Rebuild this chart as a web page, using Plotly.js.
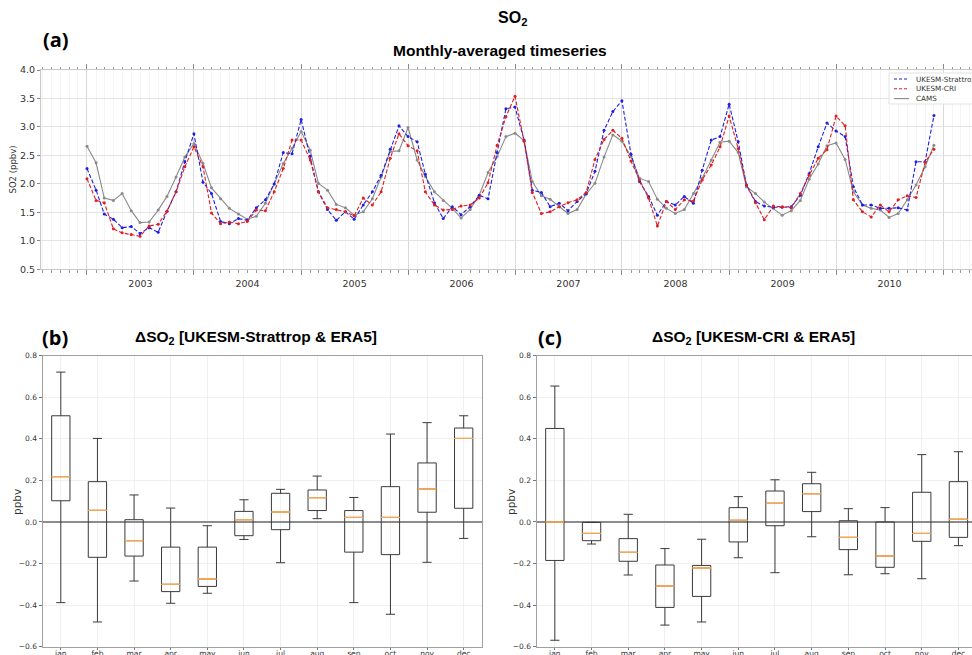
<!DOCTYPE html>
<html><head><meta charset="utf-8">
<script src="https://cdn.plot.ly/plotly-3.0.1.min.js"></script>
<style>html,body{margin:0;padding:0;background:#fff;} #chart{width:972px;height:655px;}</style>
</head><body><div id="chart"></div>
<script>
// ---------- data ----------
const years = [2003, 2004, 2005, 2006, 2007, 2008, 2009, 2010];

const strattrop = [
  2.27, 1.89, 1.47, 1.38, 1.23, 1.25, 1.13, 1.23, 1.15, 1.52, 1.86, 2.39,
  2.88, 2.03, 1.83, 1.34, 1.30, 1.39, 1.36, 1.58, 1.72, 2.00, 2.55, 2.53,
  3.13, 2.49, 1.86, 1.55, 1.36, 1.51, 1.38, 1.63, 1.86, 2.15, 2.61, 3.02,
  2.83, 2.74, 2.17, 1.67, 1.39, 1.60, 1.46, 1.60, 1.80, 1.74, 2.55, 3.32,
  3.35, 2.77, 1.89, 1.85, 1.60, 1.66, 1.53, 1.69, 1.83, 2.22, 2.94, 3.27,
  3.46, 2.52, 2.04, 1.78, 1.45, 1.69, 1.63, 1.78, 1.66, 2.24, 2.77, 2.83,
  3.40, 2.74, 1.98, 1.69, 1.61, 1.59, 1.59, 1.60, 1.80, 2.18, 2.65, 3.07,
  2.93, 2.83, 1.95, 1.63, 1.63, 1.57, 1.57, 1.58, 1.54, 2.39, 2.39, 3.20
];
const cri = [
  2.09, 1.71, 1.67, 1.21, 1.14, 1.11, 1.08, 1.26, 1.29, 1.52, 1.86, 2.30,
  2.65, 2.30, 1.49, 1.30, 1.33, 1.30, 1.34, 1.54, 1.53, 1.86, 2.27, 2.77,
  2.77, 2.42, 1.86, 1.58, 1.55, 1.51, 1.44, 1.75, 1.63, 1.86, 2.45, 2.88,
  2.67, 2.58, 1.86, 1.63, 1.54, 1.55, 1.61, 1.63, 1.75, 2.02, 2.68, 3.18,
  3.54, 2.75, 1.85, 1.48, 1.51, 1.60, 1.67, 1.72, 1.85, 2.43, 2.78, 2.94,
  2.80, 2.40, 2.07, 1.75, 1.26, 1.69, 1.55, 1.72, 1.70, 2.07, 2.33, 2.65,
  3.19, 2.62, 1.98, 1.67, 1.37, 1.61, 1.60, 1.58, 1.83, 2.15, 2.45, 2.60,
  3.19, 3.02, 1.72, 1.51, 1.42, 1.63, 1.51, 1.72, 1.79, 1.76, 2.38, 2.61
];
const cams = [
  2.66, 2.37, 1.75, 1.71, 1.83, 1.53, 1.32, 1.33, 1.54, 1.78, 2.12, 2.47,
  2.71, 2.36, 1.93, 1.74, 1.57, 1.47, 1.38, 1.43, 1.66, 2.00, 2.36, 2.62,
  2.92, 2.59, 2.01, 1.89, 1.64, 1.58, 1.45, 1.51, 1.74, 2.12, 2.57, 2.58,
  2.99, 2.42, 2.13, 1.86, 1.71, 1.57, 1.40, 1.55, 1.80, 2.20, 2.48, 2.83,
  2.89, 2.76, 2.04, 1.79, 1.73, 1.60, 1.48, 1.55, 1.82, 2.01, 2.47, 2.86,
  2.75, 2.48, 2.10, 2.04, 1.73, 1.57, 1.48, 1.55, 1.83, 2.10, 2.42, 2.73,
  2.75, 2.55, 1.95, 1.83, 1.68, 1.57, 1.45, 1.53, 1.71, 2.08, 2.35, 2.67,
  2.72, 2.43, 1.86, 1.63, 1.57, 1.54, 1.41, 1.48, 1.72, 1.98, 2.30, 2.68
];

const monthIdx = [1, 2, 3, 4, 5, 6, 7, 8, 9, 10, 11, 12];
const monthLabels = ['jan', 'feb', 'mar', 'apr', 'may', 'jun', 'jul', 'aug', 'sep', 'oct', 'nov', 'dec'];

// (b) UKESM-Strattrop minus ERA5
const stratHi  = [0.721, 0.402, 0.130, 0.067, -0.018, 0.107, 0.157, 0.221, 0.118, 0.423, 0.478, 0.511];
const stratQ3  = [0.511, 0.194, 0.011, -0.121, -0.121, 0.051, 0.138, 0.154, 0.055, 0.170, 0.284, 0.452];
const stratMed = [0.218, 0.056, -0.090, -0.300, -0.274, 0.011, 0.048, 0.117, 0.022, 0.022, 0.159, 0.402];
const stratQ1  = [0.102, -0.170, -0.164, -0.335, -0.310, -0.066, -0.037, 0.055, -0.145, -0.157, 0.047, 0.066];
const stratLo  = [-0.388, -0.481, -0.284, -0.391, -0.343, -0.084, -0.196, 0.016, -0.388, -0.444, -0.194, -0.079];

// (c) UKESM-CRI minus ERA5
const criHi  = [0.654, -0.002, 0.037, -0.128, -0.083, 0.122, 0.203, 0.239, 0.064, 0.069, 0.324, 0.338];
const criQ3  = [0.450, -0.002, -0.080, -0.207, -0.209, 0.069, 0.149, 0.184, 0.006, 0.000, 0.143, 0.194];
const criMed = [0.000, -0.055, -0.146, -0.308, -0.221, 0.008, 0.090, 0.136, -0.074, -0.164, -0.055, 0.013];
const criQ1  = [-0.185, -0.090, -0.189, -0.411, -0.358, -0.096, -0.018, 0.050, -0.133, -0.218, -0.093, -0.074];
const criLo  = [-0.569, -0.106, -0.255, -0.496, -0.481, -0.172, -0.244, -0.071, -0.254, -0.249, -0.273, -0.114];

// ---------- build ----------
const W = 972, H = 655;
const px = v => v / W;
const py = v => 1 - v / H;

const dates = [];
years.forEach(y => { for (let m = 1; m <= 12; m++) dates.push(y + '-' + String(m).padStart(2, '0') + '-01'); });

const dashStyle = '4px,2px';
const lineTrace = (y, name, color, dash) => ({
  type: 'scatter', mode: 'lines+markers', x: dates, y: y, name: name,
  xaxis: 'x', yaxis: 'y',
  line: {color: color, width: 1.1, dash: dash},
  marker: {color: color, size: 3},
  showlegend: false, hoverinfo: 'skip'
});

const boxTrace = (lo, q1, med, q3, hi, xa, ya) => ({
  type: 'box', x: monthIdx, q1: q1, median: med, q3: q3, lowerfence: lo, upperfence: hi,
  xaxis: xa, yaxis: ya, width: 0.5, whiskerwidth: 0.5, boxpoints: false,
  line: {color: '#3a3a3a', width: 1}, fillcolor: 'rgba(255,255,255,0)',
  showlegend: false, hoverinfo: 'skip'
});
const medTrace = (med, xa, ya) => ({
  type: 'box', x: monthIdx, q1: med, median: med, q3: med, lowerfence: med, upperfence: med,
  xaxis: xa, yaxis: ya, width: 0.5, whiskerwidth: 0, boxpoints: false,
  line: {color: '#f7a856', width: 1}, fillcolor: 'rgba(255,255,255,0)',
  showlegend: false, hoverinfo: 'skip'
});

const data = [
  lineTrace(cams, 'CAMS', '#8a8a8a', 'solid'),
  lineTrace(strattrop, 'UKESM-Strattrop', '#1f1fe0', dashStyle),
  lineTrace(cri, 'UKESM-CRI', '#e01f1f', dashStyle),
  boxTrace(stratLo, stratQ1, stratMed, stratQ3, stratHi, 'x2', 'y2'),
  medTrace(stratMed, 'x2', 'y2'),
  boxTrace(criLo, criQ1, criMed, criQ3, criHi, 'x3', 'y3'),
  medTrace(criMed, 'x3', 'y3')
];

const tickFont = {family: 'DejaVu Sans', size: 9.5, color: '#333'};
const smallTick = {family: 'DejaVu Sans', size: 7.5, color: '#333'};

const boxX = (dom, rng) => ({
  domain: dom, range: rng, tickvals: monthIdx, ticktext: monthLabels,
  showgrid: true, gridcolor: '#ececec', gridwidth: 0.8,
  showline: true, linecolor: '#a0a0a0', linewidth: 1, mirror: true,
  ticks: 'outside', ticklen: 2, tickcolor: '#777', tickfont: smallTick,
  ticklabelstandoff: -3,
  zeroline: false, fixedrange: true
});
const boxY = (anchor) => ({
  domain: [1 - 646.7 / H, 1 - 355.7 / H], anchor: anchor, range: [-0.6, 0.8], dtick: 0.2, tick0: 0,
  tickformat: '.1f', showgrid: true, gridcolor: '#ececec', gridwidth: 0.8,
  showline: true, linecolor: '#a0a0a0', linewidth: 1, mirror: true,
  ticks: 'outside', ticklen: 3, tickcolor: '#777', tickfont: smallTick,
  zeroline: true, zerolinecolor: '#8c8c8c', zerolinewidth: 1.3
});

const legendY = [79, 88.8, 98.6];
const legendItems = [
  {name: 'UKESM-Strattrop', color: '#1f1fe0', dash: 'dash'},
  {name: 'UKESM-CRI', color: '#e01f1f', dash: 'dash'},
  {name: 'CAMS', color: '#8a8a8a', dash: 'solid'}
];

const shapes = [
  {type: 'rect', xref: 'paper', yref: 'paper', x0: px(889), x1: px(975), y0: py(104), y1: py(73),
   line: {color: '#e2e2e2', width: 1}, fillcolor: 'rgba(255,255,255,0.9)', layer: 'above'}
];
const annotations = [];
legendItems.forEach((it, k) => {
  shapes.push({type: 'line', xref: 'paper', yref: 'paper', x0: px(894), x1: px(909),
    y0: py(legendY[k]), y1: py(legendY[k]), line: {color: it.color, width: 1.1, dash: it.dash === 'dash' ? '3px,2px' : 'solid'}, layer: 'above'});
  annotations.push({xref: 'paper', yref: 'paper', x: px(914), y: py(legendY[k]), xanchor: 'left', yanchor: 'middle',
    text: it.name, showarrow: false, font: {family: 'DejaVu Sans', size: 7.2, color: '#333'}});
});

const addText = (text, x, y, size, opts = {}) => annotations.push(Object.assign({
  xref: 'paper', yref: 'paper', x: px(x), y: py(y), text: text, showarrow: false,
  xanchor: 'center', yanchor: 'middle',
  font: {family: 'Liberation Sans, Arial', size: size, color: '#000', weight: 700}
}, opts));

addText('SO<sub>2</sub>', 512, 18, 16);
addText('Monthly-averaged timeseries', 500, 50, 15.5);
addText('(a)', 41, 40, 20, {xanchor: 'left', font: {family: 'Open Sans', size: 20, color: '#000', weight: 700}});
addText('(b)', 40, 337, 20, {xanchor: 'left', font: {family: 'Open Sans', size: 20, color: '#000', weight: 700}});
addText('(c)', 536, 337, 20, {xanchor: 'left', font: {family: 'Open Sans', size: 20, color: '#000', weight: 700}});
addText('ΔSO<sub>2</sub> [UKESM-Strattrop &amp; ERA5]', 256, 337, 15.5);
addText('ΔSO<sub>2</sub> [UKESM-CRI &amp; ERA5]', 753, 337, 15.5);
addText('SO2 (ppbv)', 12.5, 170, 8.5, {textangle: -90, font: {family: 'DejaVu Sans', size: 8.5, color: '#333'}});
addText('ppbv', 17, 502, 10.5, {textangle: -90, font: {family: 'DejaVu Sans', size: 10.5, color: '#333'}});
addText('ppbv', 511, 502, 10.5, {textangle: -90, font: {family: 'DejaVu Sans', size: 10.5, color: '#333'}});

const layout = {
  width: W, height: H, margin: {l: 0, r: 0, t: 0, b: 0},
  paper_bgcolor: '#fff', plot_bgcolor: '#fff',
  showlegend: false, boxmode: 'overlay',
  xaxis: {
    domain: [px(41), 1], anchor: 'y', type: 'date',
    range: ['2002-07-28', '2011-04-10'],
    tick0: '2003-01-01', dtick: 'M12', tickformat: '%Y', ticklabelmode: 'period',
    ticks: 'outside', ticklen: 5, tickcolor: '#888', tickfont: tickFont,
    showgrid: true, gridcolor: '#d9d9d9', gridwidth: 1,
    minor: {dtick: 'M1', ticks: 'outside', ticklen: 2.5, tickcolor: '#999', showgrid: true, gridcolor: '#f1f1f1', gridwidth: 0.8},
    showline: true, linecolor: '#c8c8c8', linewidth: 1, mirror: 'allticks',
    zeroline: false, fixedrange: true
  },
  yaxis: {
    domain: [1 - 269.3 / H, 1 - 70 / H], anchor: 'x', range: [0.5, 4.0], dtick: 0.5, tick0: 0.5,
    tickformat: '.1f', ticks: 'outside', ticklen: 3, tickcolor: '#888', tickfont: tickFont,
    showgrid: true, gridcolor: '#e3e3e3', gridwidth: 1,
    showline: true, linecolor: '#c8c8c8', linewidth: 1, mirror: true, zeroline: false
  },
  xaxis2: Object.assign(boxX([px(42.5), px(482)], [0.5, 12.5]), {anchor: 'y2'}),
  yaxis2: boxY('x2'),
  xaxis3: Object.assign(boxX([px(536.5), 1], [0.5, 12.37]), {anchor: 'y3'}),
  yaxis3: boxY('x3'),
  shapes: shapes,
  annotations: annotations
};

Plotly.newPlot('chart', data, layout, {staticPlot: true, displayModeBar: false});
</script>
</body></html>
